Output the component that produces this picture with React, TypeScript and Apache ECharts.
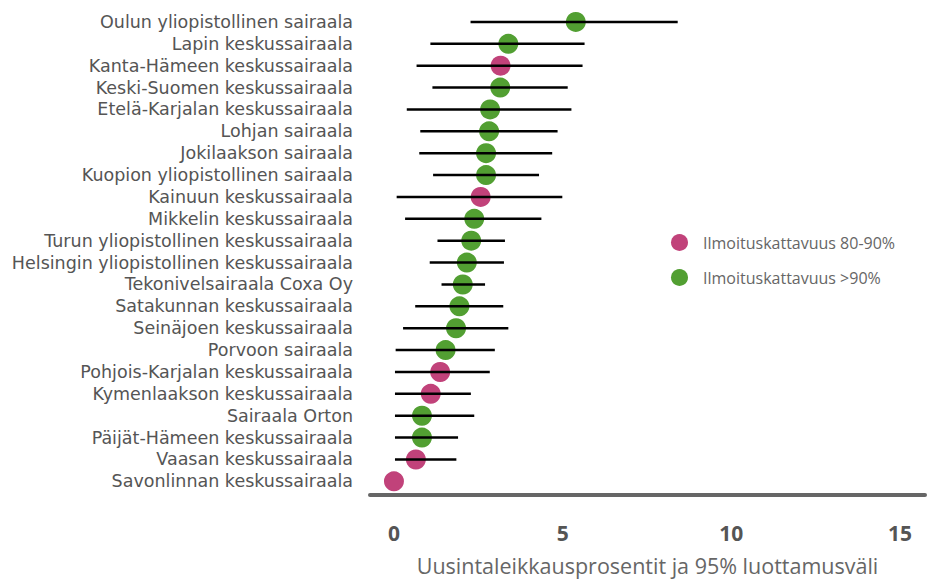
import React, { useEffect, useRef } from "react";
import * as echarts from "echarts";

const hospitals = [
  "Oulun yliopistollinen sairaala",
  "Lapin keskussairaala",
  "Kanta-Hämeen keskussairaala",
  "Keski-Suomen keskussairaala",
  "Etelä-Karjalan keskussairaala",
  "Lohjan sairaala",
  "Jokilaakson sairaala",
  "Kuopion yliopistollinen sairaala",
  "Kainuun keskussairaala",
  "Mikkelin keskussairaala",
  "Turun yliopistollinen keskussairaala",
  "Helsingin yliopistollinen keskussairaala",
  "Tekonivelsairaala Coxa Oy",
  "Satakunnan keskussairaala",
  "Seinäjoen keskussairaala",
  "Porvoon sairaala",
  "Pohjois-Karjalan keskussairaala",
  "Kymenlaakson keskussairaala",
  "Sairaala Orton",
  "Päijät-Hämeen keskussairaala",
  "Vaasan keskussairaala",
  "Savonlinnan keskussairaala",
];

const rates = [5.39, 3.39, 3.16, 3.15, 2.85, 2.82, 2.73, 2.73, 2.57, 2.38, 2.29, 2.16, 2.04, 1.94, 1.84, 1.53, 1.37, 1.09, 0.83, 0.83, 0.65, 0.0];
const ciLow = [2.27, 1.08, 0.67, 1.14, 0.38, 0.78, 0.75, 1.16, 0.08, 0.33, 1.29, 1.06, 1.41, 0.63, 0.27, 0.05, 0.03, 0.03, 0.03, 0.03, 0.03, 0.0];
const ciHigh = [8.41, 5.65, 5.59, 5.15, 5.26, 4.85, 4.69, 4.3, 4.99, 4.37, 3.29, 3.26, 2.7, 3.24, 3.39, 2.99, 2.84, 2.28, 2.38, 1.9, 1.85, 0.0];
// coverage: "low" = 80-90 %, "high" = >90 %
const coverage = ["high", "high", "low", "high", "high", "high", "high", "high", "low", "high", "high", "high", "high", "high", "high", "high", "low", "low", "high", "high", "low", "low"];

const seriesNames = ["Ilmoituskattavuus 80-90%", "Ilmoituskattavuus >90%"];
const xTicks = [0, 5, 10, 15];
const xTitle = "Uusintaleikkausprosentit ja 95% luottamusväli";

const PINK = "#c1427a";
const GREEN = "#529f32";
const FONT = "Open Sans";

export default function App() {
  const ref = useRef<HTMLDivElement>(null);
  useEffect(() => {
    if (!ref.current) return;
    const chart = echarts.init(ref.current, null, { renderer: "svg" });
    const lowData = hospitals
      .map((h, i) => (coverage[i] === "low" ? [rates[i], i] : null))
      .filter((d) => d !== null);
    const highData = hospitals
      .map((h, i) => (coverage[i] === "high" ? [rates[i], i] : null))
      .filter((d) => d !== null);
    const ciData = hospitals
      .map((h, i) => [ciLow[i], ciHigh[i], i])
      .filter((d) => d[1] > d[0]);
    chart.setOption({
      animation: false,
      textStyle: { fontFamily: FONT },
      grid: { left: 370, right: 3, top: 11, bottom: 85, containLabel: false },
      legend: {
        orient: "vertical",
        left: 666,
        top: 229,
        itemWidth: 17,
        itemHeight: 17,
        itemGap: 18,
        icon: "circle",
        data: seriesNames,
        textStyle: { color: "#666", fontSize: 16, fontFamily: FONT, padding: [0, 0, 0, 10] },
      },
      xAxis: {
        type: "value",
        min: -0.71,
        max: 15.74,
        offset: 2.7,
        splitLine: { show: false },
        axisTick: { show: false },
        axisLine: { show: true, lineStyle: { color: "#666", width: 4 } },
        axisLabel: {
          customValues: xTicks,
          color: "#555",
          fontSize: 21,
          fontWeight: "bold",
          fontFamily: FONT,
          margin: 27,
        },
        name: xTitle,
        nameLocation: "middle",
        nameGap: 59,
        nameTextStyle: { color: "#666", fontSize: 21.5, fontFamily: FONT },
      },
      yAxis: {
        type: "category",
        data: hospitals,
        inverse: true,
        axisLine: { show: false },
        axisTick: { show: false },
        splitLine: { show: false },
        axisLabel: {
          color: "#555",
          fontSize: 17.5,
          lineHeight: 20,
          fontFamily: "DejaVu Sans",
          margin: 17,
          interval: 0,
        },
      },
      series: [
        {
          name: seriesNames[0],
          type: "scatter",
          symbolSize: 20,
          itemStyle: { color: PINK, opacity: 1 },
          data: lowData,
          z: 2,
        },
        {
          name: seriesNames[1],
          type: "scatter",
          symbolSize: 20,
          itemStyle: { color: GREEN, opacity: 1 },
          data: highData,
          z: 2,
        },
        {
          type: "custom",
          name: "ci",
          z: 3,
          encode: { x: [0, 1], y: 2 },
          data: ciData,
          renderItem: (params: any, api: any) => {
            const p1 = api.coord([api.value(0), api.value(2)]);
            const p2 = api.coord([api.value(1), api.value(2)]);
            return {
              type: "line",
              shape: { x1: p1[0], y1: p1[1], x2: p2[0], y2: p2[1] },
              style: { stroke: "#000", lineWidth: 2.5 },
            };
          },
        },
      ],
    });
    return () => chart.dispose();
  }, []);
  return <div ref={ref} style={{ width: 928, height: 581, position: "absolute", left: 0, top: 0 }} />;
}
